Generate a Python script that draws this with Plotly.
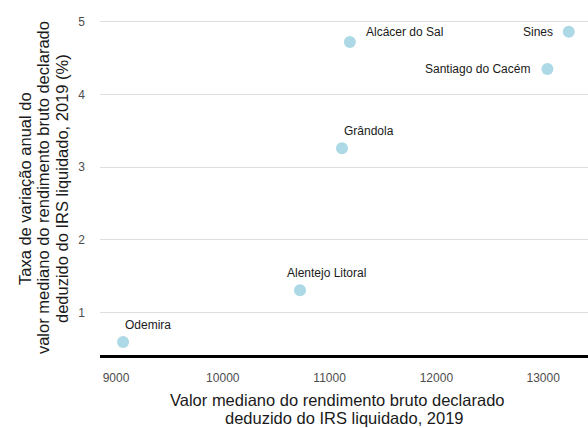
import plotly.graph_objects as go

municipios = ["Odemira", "Alentejo Litoral", "Grândola", "Alcácer do Sal", "Santiago do Cacém", "Sines"]
rendimento = [9066, 10723, 11116, 11190, 13040, 13240]
taxa = [0.60, 1.31, 3.26, 4.72, 4.35, 4.86]
x_ticks = [9000, 10000, 11000, 12000, 13000]
x_tick_labels = ["9000", "10000", "11000", "12000", "13000"]
y_ticks = [1, 2, 3, 4, 5]
x_title_lines = ["Valor mediano do rendimento bruto declarado", "deduzido do IRS liquidado, 2019"]
y_title_lines = ["Taxa de variação anual do", "valor mediano do rendimento bruto declarado",
                 "deduzido do IRS liquidado, 2019 (%)"]

# label placement (style only)
lab_anchor = ["left", "left", "left", "left", "right", "right"]
lab_dx = [0, -15, 0, 14, -15, -14]
lab_dy = [17, 17, 17, 10, 0, 0]

FONT = "Arial"

fig = go.Figure()
fig.add_trace(go.Scatter(
    x=rendimento, y=taxa, mode="markers",
    marker=dict(color="#add8e6", size=12),
    hoverinfo="text", text=municipios, showlegend=False,
))
for name, xv, yv, a, dx, dy in zip(municipios, rendimento, taxa, lab_anchor, lab_dx, lab_dy):
    fig.add_annotation(x=xv, y=yv, xref="x", yref="y", text=name, showarrow=False,
                       xanchor=a, yanchor="middle", xshift=dx, yshift=dy,
                       font=dict(family=FONT, size=12, color="#1a1a1a"))

# axis titles as separate lines (tight line spacing)
for line, px, py in zip(x_title_lines, [0.4877, 0.5020], [-0.1286, -0.18]):
    fig.add_annotation(x=px, y=py, xref="paper", yref="paper", text=line, showarrow=False,
                       xanchor="center", yanchor="middle",
                       font=dict(family=FONT, size=16.5, color="#1a1a1a"))
for line, px in zip(y_title_lines, [-0.1537, -0.1168, -0.0779]):
    fig.add_annotation(x=px, y=0.477, xref="paper", yref="paper", text=line, showarrow=False,
                       xanchor="center", yanchor="middle", textangle=-90,
                       font=dict(family=FONT, size=16.5, color="#1a1a1a"))

fig.update_layout(
    width=588, height=428,
    margin=dict(l=100, r=0, t=5, b=73),
    paper_bgcolor="white", plot_bgcolor="white",
    font=dict(family=FONT, color="#4d4d4d"),
    xaxis=dict(range=[8850, 13420], tickvals=x_ticks, ticktext=x_tick_labels,
               showgrid=False, zeroline=False, automargin=False,
               showline=True, linecolor="black", linewidth=3,
               tickfont=dict(family=FONT, size=12, color="#4d4d4d"), ticklabelstandoff=10),
    yaxis=dict(range=[0.42, 5.228], tickvals=y_ticks, showgrid=True, gridcolor="#dedede", gridwidth=1,
               zeroline=False, showline=False, automargin=False,
               tickfont=dict(family=FONT, size=12, color="#4d4d4d"), ticklabelstandoff=14),
)
fig.write_html("out.html", config={"displayModeBar": False},
               post_script="document.body.style.margin='0';document.body.style.overflow='hidden';")
